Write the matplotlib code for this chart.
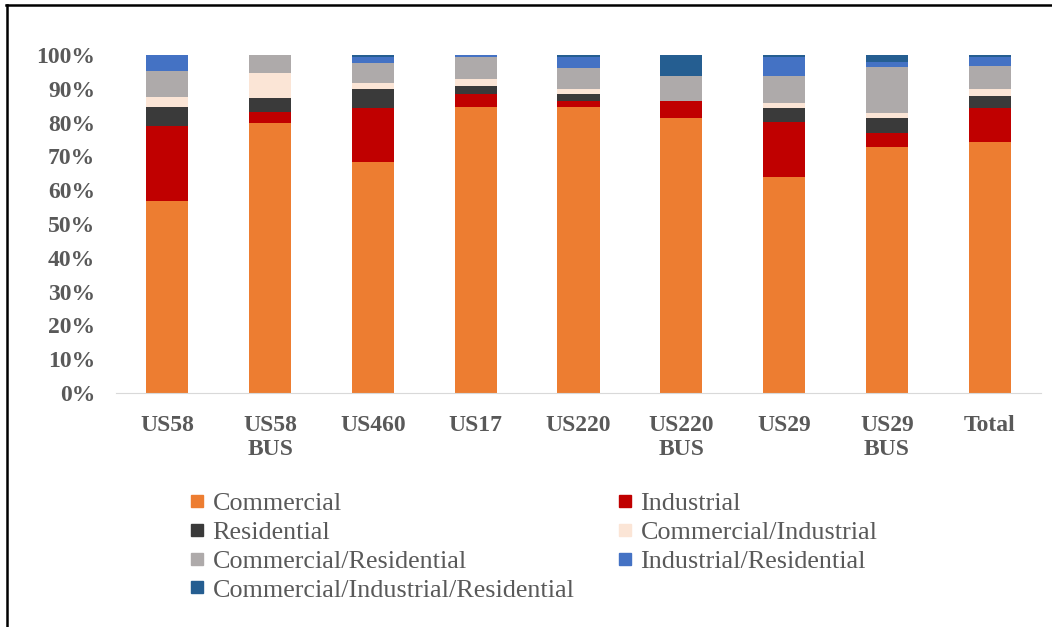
import numpy as np
import matplotlib
matplotlib.use('Agg')
import matplotlib.pyplot as plt
from matplotlib.lines import Line2D
from matplotlib.ticker import PercentFormatter

categories = ['US58', 'US58\nBUS', 'US460', 'US17', 'US220', 'US220\nBUS', 'US29', 'US29\nBUS', 'Total']

# shares in percent
commercial = [56.8, 79.8, 68.4, 84.5, 84.5, 81.5, 63.9, 72.7, 74.3]
industrial = [22.3, 3.4, 16.0, 4.1, 1.8, 4.8, 16.4, 4.1, 10.1]
residential = [5.4, 4.2, 5.5, 2.3, 2.3, 0.0, 4.1, 4.7, 3.6]
com_ind = [3.0, 7.2, 1.7, 1.9, 1.3, 0.0, 1.3, 1.2, 1.8]
com_res = [7.7, 5.4, 5.9, 6.7, 6.2, 7.6, 8.2, 13.7, 7.0]
ind_res = [4.8, 0.0, 1.8, 0.5, 3.4, 0.0, 5.4, 1.6, 2.5]
com_ind_res = [0.0, 0.0, 0.7, 0.0, 0.5, 6.0, 0.7, 2.0, 0.7]

series = [
    ('Commercial', commercial, '#ED7D31'),
    ('Industrial', industrial, '#C00000'),
    ('Residential', residential, '#3A3A3A'),
    ('Commercial/Industrial', com_ind, '#FBE5D6'),
    ('Commercial/Residential', com_res, '#AEAAAA'),
    ('Industrial/Residential', ind_res, '#4472C4'),
    ('Commercial/Industrial/Residential', com_ind_res, '#255E91'),
]

txt = '#595959'
plt.rcParams['font.family'] = ['Liberation Serif', 'DejaVu Serif']

fig = plt.figure(figsize=(10.52, 6.27), dpi=100)
ax = fig.add_axes([116 / 1052, 1 - 393 / 627, (1041 - 116) / 1052, (393 - 55) / 627])

x = np.arange(len(categories))
bottom = np.zeros(len(categories))
handles = {}
for name, vals, col in series:
    v = np.array(vals) / 100
    ax.bar(x, v, 0.41, bottom=bottom, color=col, linewidth=0, clip_on=False)
    bottom += v
    handles[name] = Line2D([], [], marker='s', linestyle='', markersize=8.5,
                           markerfacecolor=col, markeredgecolor=col)

ax.set_xlim(-0.5, 8.5)
ax.set_ylim(0, 1)
ax.set_yticks(np.linspace(0, 1, 11))
ax.yaxis.set_major_formatter(PercentFormatter(1.0, decimals=0))
ax.set_xticks(x)
ax.set_xticklabels(categories, linespacing=1.15)
for s in ['top', 'right', 'left']:
    ax.spines[s].set_visible(False)
ax.spines['bottom'].set_color('#D9D9D9')
ax.tick_params(axis='both', length=0, labelsize=17, colors=txt)
ax.tick_params(axis='y', pad=15)
ax.tick_params(axis='x', pad=16)
for lab in ax.get_xticklabels() + ax.get_yticklabels():
    lab.set_fontweight('bold')

# legend in two columns, placed separately
col1 = ['Commercial', 'Residential', 'Commercial/Residential', 'Commercial/Industrial/Residential']
col2 = ['Industrial', 'Commercial/Industrial', 'Industrial/Residential']
for names, xpos in [(col1, 189), (col2, 617)]:
    leg = fig.legend([handles[n] for n in names], names, frameon=False,
                     loc='upper left', bbox_to_anchor=(xpos / 1052, 1 - 492 / 627),
                     fontsize=18.8, handlelength=0.6, handletextpad=0.3,
                     labelspacing=0.21, borderpad=0, borderaxespad=0)
    for t in leg.get_texts():
        t.set_color(txt)

# outer frame lines (top and left)
fig.add_artist(Line2D([6 / 1052, 1], [1 - 5 / 627, 1 - 5 / 627], color='black', lw=1.8))
fig.add_artist(Line2D([7 / 1052, 7 / 1052], [0, 1 - 5 / 627], color='black', lw=1.8))

fig.savefig('out.png', dpi=100)
